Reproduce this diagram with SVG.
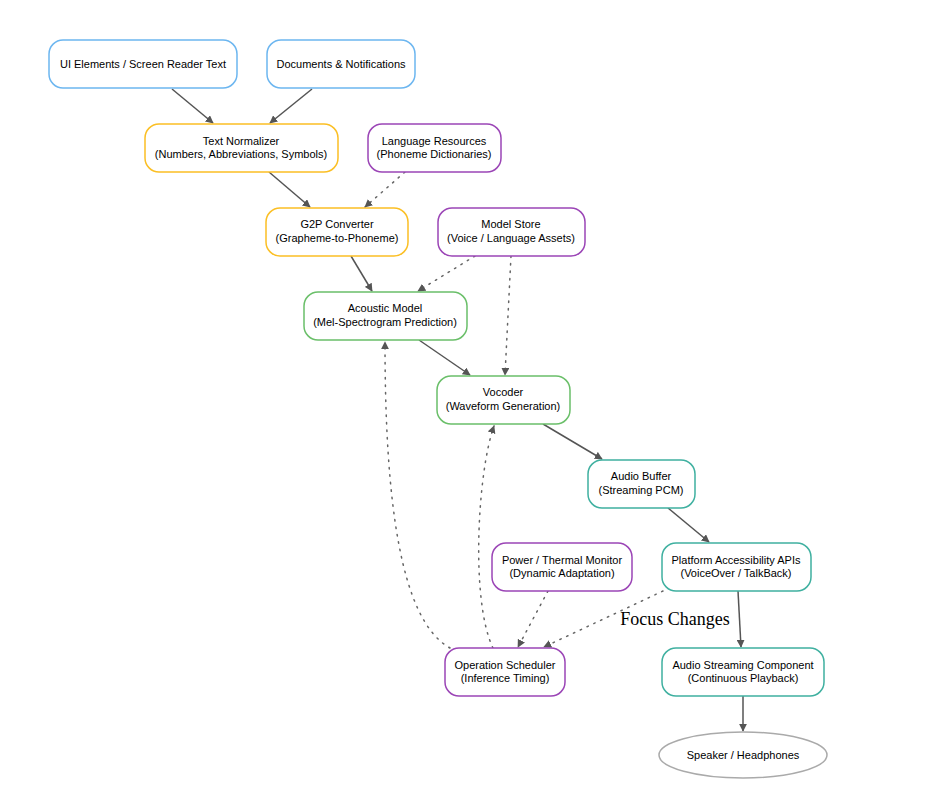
<svg xmlns="http://www.w3.org/2000/svg" width="928" height="808" viewBox="0 0 928 808">
<style>
.n{fill:#fff;stroke-width:1.5}
.b{stroke:#6cb6f0}.y{stroke:#fbbf24}.p{stroke:#9b45b6}.g{stroke:#6abf69}.t{stroke:#3fb0a0}
text{font-family:"Liberation Sans",Arial,sans-serif;font-size:11px;fill:#000;text-anchor:middle}
.e{fill:none;stroke:#555;stroke-width:1.5}
.d{fill:none;stroke:#666;stroke-width:1.5;stroke-dasharray:1.5 6;stroke-linecap:round}
</style>
<defs><marker id="a" viewBox="0 0 10 10" refX="9" refY="5" markerWidth="8" markerHeight="8" markerUnits="userSpaceOnUse" orient="auto"><path d="M0,0L10,5L0,10z" fill="#555"/></marker></defs>
<rect width="928" height="808" fill="#fff"/>
<g id="connectors">
<path class="e" d="M172,89L213,123" marker-end="url(#a)"/>
<path class="e" d="M312,89L270,123" marker-end="url(#a)"/>
<path class="e" d="M269,172L310,207" marker-end="url(#a)"/>
<path class="d" d="M405,172L365,207" marker-end="url(#a)"/>
<path class="e" d="M351,256L372,291" marker-end="url(#a)"/>
<path class="d" d="M475,256L418,291" marker-end="url(#a)"/>
<path class="d" d="M511,256L505,375" marker-end="url(#a)"/>
<path class="e" d="M419,340L470,375" marker-end="url(#a)"/>
<path class="e" d="M543,424L602,459" marker-end="url(#a)"/>
<path class="e" d="M668,508L709,542" marker-end="url(#a)"/>
<path class="e" d="M738,591L741,647" marker-end="url(#a)"/>
<path class="e" d="M743,696L743,731" marker-end="url(#a)"/>
<path class="d" d="M548,591L518,647" marker-end="url(#a)"/>
<path class="d" d="M663,591L544,647" marker-end="url(#a)"/>
<path class="d" d="M450,648C400,620 385,500 385,342" marker-end="url(#a)"/>
<path class="d" d="M493,648C470,600 478,470 494,426" marker-end="url(#a)"/>
<text x="675" y="625" style="font-family:'Liberation Serif',serif;font-size:18px">Focus Changes</text>
</g>
<g id="ui"><rect class="n b" x="49" y="40" width="188" height="48" rx="14"/><text x="143" y="68">UI Elements / Screen Reader Text</text></g>
<g id="docs"><rect class="n b" x="267" y="40" width="148" height="48" rx="14"/><text x="341" y="68">Documents &amp; Notifications</text></g>
<g id="tn"><rect class="n y" x="145" y="124" width="193" height="48" rx="14"/><text x="241" y="145">Text Normalizer</text><text x="241" y="158">(Numbers, Abbreviations, Symbols)</text></g>
<g id="lr"><rect class="n p" x="368" y="124" width="133" height="48" rx="14"/><text x="434" y="145">Language Resources</text><text x="434" y="158">(Phoneme Dictionaries)</text></g>
<g id="g2p"><rect class="n y" x="266" y="208" width="142" height="48" rx="14"/><text x="337" y="228">G2P Converter</text><text x="337" y="242">(Grapheme-to-Phoneme)</text></g>
<g id="ms"><rect class="n p" x="438" y="208" width="147" height="48" rx="14"/><text x="511" y="228">Model Store</text><text x="511" y="242">(Voice / Language Assets)</text></g>
<g id="am"><rect class="n g" x="304" y="292" width="163" height="48" rx="14"/><text x="385" y="312">Acoustic Model</text><text x="385" y="326">(Mel-Spectrogram Prediction)</text></g>
<g id="voc"><rect class="n g" x="437" y="376" width="133" height="48" rx="14"/><text x="503" y="396">Vocoder</text><text x="503" y="410">(Waveform Generation)</text></g>
<g id="ab"><rect class="n t" x="588" y="460" width="107" height="48" rx="14"/><text x="641" y="480">Audio Buffer</text><text x="641" y="494">(Streaming PCM)</text></g>
<g id="pw"><rect class="n p" x="492" y="543" width="140" height="48" rx="14"/><text x="562" y="564">Power / Thermal Monitor</text><text x="562" y="577">(Dynamic Adaptation)</text></g>
<g id="pa"><rect class="n t" x="662" y="543" width="149" height="48" rx="14"/><text x="736" y="564">Platform Accessibility APIs</text><text x="736" y="577">(VoiceOver / TalkBack)</text></g>
<g id="os"><rect class="n p" x="445" y="648" width="120" height="48" rx="14"/><text x="505" y="669">Operation Scheduler</text><text x="505" y="682">(Inference Timing)</text></g>
<g id="as"><rect class="n t" x="662" y="648" width="162" height="48" rx="14"/><text x="743" y="669">Audio Streaming Component</text><text x="743" y="682">(Continuous Playback)</text></g>
<g id="sp"><ellipse cx="743" cy="755" rx="84" ry="23" fill="#fff" stroke="#aaa" stroke-width="1.5"/><text x="743" y="759">Speaker / Headphones</text></g>
</svg>
